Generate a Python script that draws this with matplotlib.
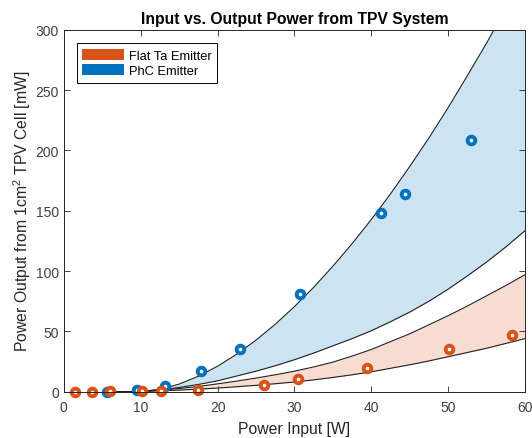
import matplotlib
matplotlib.use('Agg')
import matplotlib.pyplot as plt
from matplotlib.patches import Patch

plt.rcParams['font.family'] = ['Liberation Sans', 'DejaVu Sans']
plt.rcParams['mathtext.fontset'] = 'custom'
plt.rcParams['mathtext.rm'] = 'Liberation Sans'

# measured points
flat_x = [1.4, 3.6, 6.0, 10.2, 12.6, 17.4, 26.0, 30.5, 39.4, 50.1, 58.3]
flat_y = [0.0, 0.0, 0.2, 0.3, 0.5, 1.4, 5.6, 10.5, 19.6, 35.4, 46.9]
phc_x = [5.6, 9.5, 13.1, 17.9, 22.9, 30.7, 41.2, 44.4, 53.0]
phc_y = [0.1, 1.5, 5.0, 17.2, 35.5, 81.0, 147.8, 163.5, 208.9]

# model bands
curve_x = [6, 8, 10, 12.5, 15, 17.5, 20, 22.5, 25, 27.5, 30, 32.5, 35, 37.5,
           40, 42.5, 45, 47.5, 50, 52.5, 55, 57.5, 60]
phc_hi = [0, 0, 0.3, 1.9, 6.3, 12.8, 21.1, 31.1, 42.7, 55.9, 70.5, 86.5, 104,
          122.7, 142.7, 164, 186.7, 210.4, 235.5, 262, 289, 317.7, 347]
phc_lo = [0, 0, 0.3, 1.5, 3.5, 6, 9, 13, 17, 21.5, 26.5, 32, 38, 44, 50.5, 58,
          66, 75, 85, 96, 107.5, 120, 133.5]
flat_hi = [0, 0, 0.2, 1.3, 2.6, 4.3, 6.5, 8.8, 11.3, 14, 17, 20.5, 24.5, 29.5,
           35, 41.5, 48, 55.5, 63, 71, 79.5, 88, 97]
flat_lo = [0, 0, 0.1, 0.7, 1.3, 2.1, 3, 4.1, 5.3, 6.6, 8, 9.8, 11.8, 14, 16.5,
           19.4, 22.3, 25.5, 29, 32.5, 36, 40, 44]

x_ticks = [0, 10, 20, 30, 40, 50, 60]
y_ticks = [0, 50, 100, 150, 200, 250, 300]

ORANGE = '#D95319'
BLUE = '#0072BD'
TXT = '#262626'

fig = plt.figure(figsize=(5.32, 4.39), dpi=100)
ax = fig.add_axes([0.12, 0.1055, 0.867, 0.8245])

ax.fill_between(curve_x, phc_lo, phc_hi, color='#CCE3F2', lw=0)
ax.fill_between(curve_x, flat_lo, flat_hi, color='#F7DDD1', lw=0)
for c in (phc_hi, phc_lo, flat_hi, flat_lo):
    ax.plot(curve_x, c, color='#202020', lw=0.8)

ax.plot(phc_x, phc_y, 'o', ms=5.5, mfc='white', mec=BLUE, mew=2.8, clip_on=False)
ax.plot(flat_x, flat_y, 'o', ms=5.5, mfc='white', mec=ORANGE, mew=2.8, clip_on=False)

ax.set_xlim(0, 60)
ax.set_ylim(0, 300)
ax.set_xticks(x_ticks)
ax.set_yticks(y_ticks)
ax.tick_params(direction='in', top=True, right=True, length=4, width=0.6,
               colors=TXT, labelsize=10, labelcolor='#404040')
ax.tick_params(axis='x', pad=6)
for s in ax.spines.values():
    s.set_color(TXT)
    s.set_linewidth(0.7)

ax.set_title('Input vs. Output Power from TPV System', fontsize=11.3, fontweight='bold',
             color='black', pad=5)
ax.set_xlabel('Power Input [W]', fontsize=11.3, color=TXT, labelpad=5)
ax.set_ylabel('Power Output from 1cm$^{2}$ TPV Cell [mW]', fontsize=11.3, color=TXT, labelpad=2)

handles = [Patch(facecolor=ORANGE, edgecolor='none'), Patch(facecolor=BLUE, edgecolor='none')]
leg = ax.legend(handles, ['Flat Ta Emitter', 'PhC Emitter'], loc='upper left',
                bbox_to_anchor=(0.0275, 0.963), borderaxespad=0, fontsize=9.3,
                handlelength=3.2, handleheight=0.9, handletextpad=0.4,
                labelspacing=0.2, fancybox=False, framealpha=1, borderpad=0.45)
leg.get_frame().set_edgecolor('black')
leg.get_frame().set_linewidth(0.7)

fig.savefig('out.png', dpi=100)
